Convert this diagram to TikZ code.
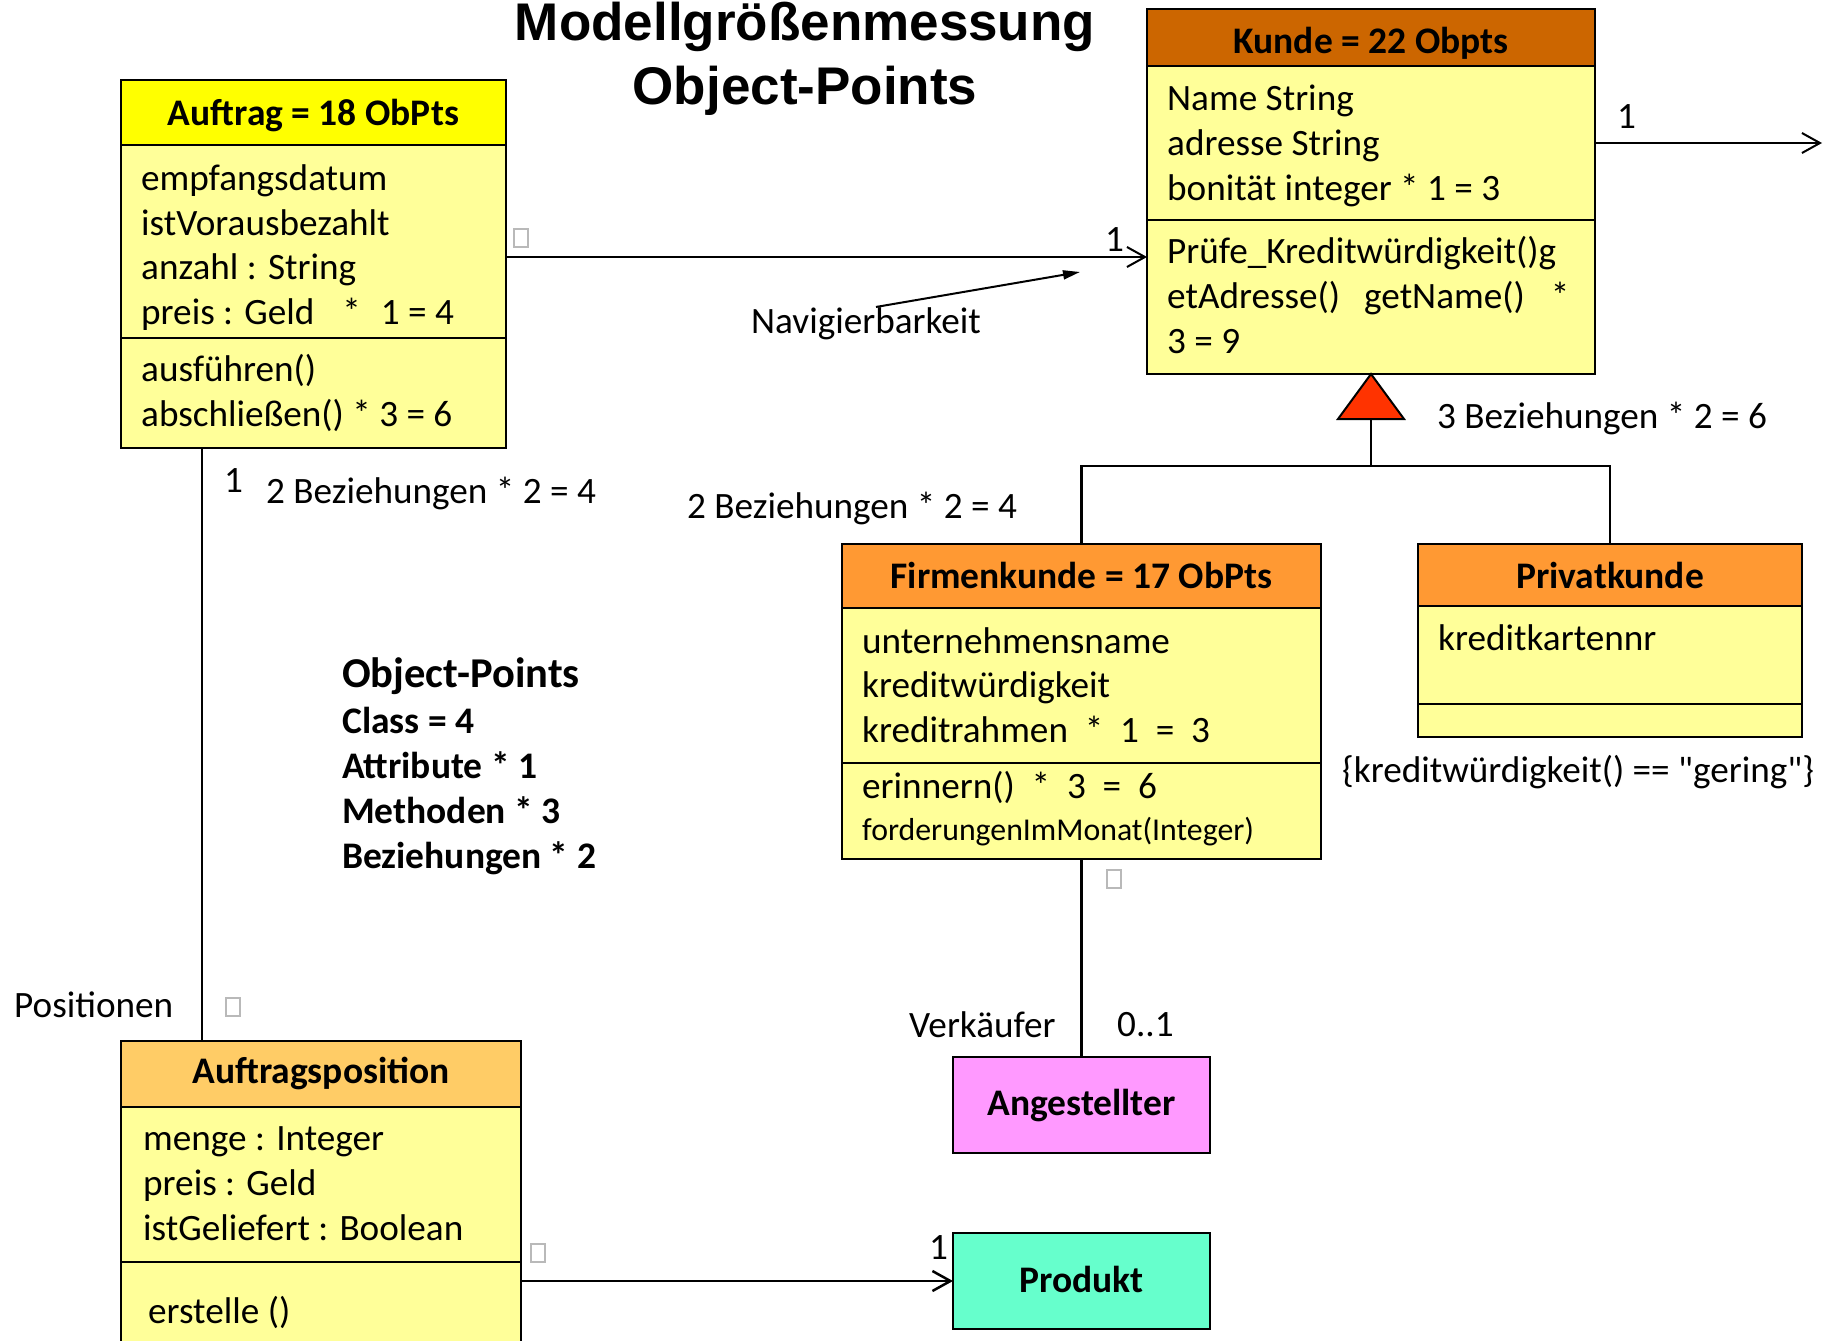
\documentclass[tikz,border=0pt]{standalone}
\usepackage{fontspec}
\setmainfont{Carlito}
\newfontfamily\rawfam{Carlito}[Ligatures=TeXOff]
\newfontfamily\titlefam{Liberation Sans}
\usetikzlibrary{arrows.meta,calc}
\definecolor{cBody}{HTML}{FFFF99}
\definecolor{cHdrY}{HTML}{FFFF00}
\definecolor{cKunde}{HTML}{CC6600}
\definecolor{cFirm}{HTML}{FF9933}
\definecolor{cPos}{HTML}{FFCC66}
\definecolor{cAng}{HTML}{FF99FF}
\definecolor{cProd}{HTML}{66FFCC}
\definecolor{cTri}{HTML}{FF3300}
\newcommand\mybody{\fontsize{37.2}{44}\selectfont}
\newcommand\myhead{\fontsize{37.5}{44}\selectfont\bfseries}
\newcommand\mysmall{\fontsize{31.8}{38}\selectfont}
\newcommand\mybig{\fontsize{42.5}{50}\selectfont\bfseries}
\newcommand\mytitle{\titlefam\bfseries\fontsize{53}{60}\selectfont}
\tikzset{
  comp/.style={draw=black, line width=2.5pt, rectangle, inner sep=0pt, outer sep=0pt, anchor=north west, fill=cBody},
  txt/.style={anchor=base west, inner sep=0pt, font=\mybody},
  hdr/.style={anchor=base, inner sep=0pt, font=\myhead},
  tofu/.style={draw=gray!55, line width=1.5pt, rectangle, minimum width=14pt, minimum height=18pt, inner sep=0pt, anchor=north west},
  conn/.style={line width=2.5pt},
  thinconn/.style={line width=2pt},
  openarrow/.style={-{Straight Barb[length=18pt,width=20pt]}},
}
\begin{document}
\begin{tikzpicture}[x=1pt,y=-1pt]
\useasboundingbox (0,0) rectangle (1829,1341);
\fill[white] (0,0) rectangle (1829,1341);

% ---- Title
\node[anchor=base, inner sep=0pt, font=\mytitle] (t1) at (805,40) {Modellgrößenmessung};
\node[anchor=base, inner sep=0pt, font=\mytitle] (t2) at (805,104) {Object-Points};

% ---- Auftrag
\node[comp, fill=cHdrY, minimum width=385pt, minimum height=65pt] (auH) at (121,80) {};
\node[comp, minimum width=385pt, minimum height=193pt] (auA) at (121,145) {};
\node[comp, minimum width=385pt, minimum height=110pt] (auM) at (121,338) {};
\node[hdr] (auT) at (313.5,125) {Auftrag = 18 ObPts};
\node[txt] (au1) at (141,190) {empfangsdatum};
\node[txt] (au2) at (141,235) {istVorausbezahlt};
\node[txt] (au3) at (141,279) {anzahl : String};
\node[txt] (au4) at (141,324) {preis : Geld\hspace{28pt}*\hspace{20pt}1 = 4};
\node[txt] (au5) at (141,381) {ausführen()};
\node[txt] (au6) at (141,426) {abschließen() * 3 = 6};

% ---- Kunde
\node[comp, fill=cKunde, minimum width=448pt, minimum height=57pt] (kuH) at (1147,9) {};
\node[comp, minimum width=448pt, minimum height=154pt] (kuA) at (1147,66) {};
\node[comp, minimum width=448pt, minimum height=154pt] (kuM) at (1147,220) {};
\node[hdr] (kuT) at (1371,53) {Kunde = 22 Obpts};
\node[txt] (ku1) at (1167,110) {Name String};
\node[txt] (ku2) at (1167,155) {adresse String};
\node[txt] (ku3) at (1167,200) {bonität integer * 1 = 3};
\node[txt] (ku4) at (1167,263) {Prüfe\_Kreditwürdigkeit()g};
\node[txt] (ku5) at (1167,308) {etAdresse()\hspace{24pt}getName()\hspace{26pt}*};
\node[txt] (ku6) at (1167,353) {3 = 9};

% ---- Firmenkunde
\node[comp, fill=cFirm, minimum width=479pt, minimum height=64pt] (fkH) at (842,544) {};
\node[comp, minimum width=479pt, minimum height=155pt] (fkA) at (842,608) {};
\node[comp, minimum width=479pt, minimum height=96pt] (fkM) at (842,763) {};
\node[hdr] (fkT) at (1081.5,588) {Firmenkunde = 17 ObPts};
\node[txt] (fk1) at (862,653) {unternehmensname};
\node[txt] (fk2) at (862,697) {kreditwürdigkeit};
\node[txt] (fk3) at (862,742) {kreditrahmen\ \ *\ \ 1\ \ =\ \ 3};
\node[txt] (fk4) at (862,798) {erinnern()\ \ *\ \ 3\ \ =\ \ 6};
\node[txt, font=\mysmall] (fk5) at (862,840) {forderungenImMonat(Integer)};

% ---- Privatkunde
\node[comp, fill=cFirm, minimum width=384pt, minimum height=62pt] (pkH) at (1418,544) {};
\node[comp, minimum width=384pt, minimum height=98pt] (pkA) at (1418,606) {};
\node[comp, minimum width=384pt, minimum height=33pt] (pkM) at (1418,704) {};
\node[hdr] (pkT) at (1610,588) {Privatkunde};
\node[txt] (pk1) at (1438,650) {kreditkartennr};
\node[txt, font=\mybody\rawfam] (cons) at (1342,782) {\{kreditwürdigkeit() == "gering"\}};

% ---- Auftragsposition
\node[comp, fill=cPos, minimum width=400pt, minimum height=66pt] (apH) at (121,1041) {};
\node[comp, minimum width=400pt, minimum height=155pt] (apA) at (121,1107) {};
\node[comp, minimum width=400pt, minimum height=110pt] (apM) at (121,1262) {};
\node[hdr] (apT) at (321,1083) {Auftragsposition};
\node[txt] (ap1) at (143,1150) {menge : Integer};
\node[txt] (ap2) at (143,1195) {preis : Geld};
\node[txt] (ap3) at (143,1240) {istGeliefert : Boolean};
\node[txt] (ap4) at (148,1323) {erstelle ()};

% ---- Angestellter, Produkt
\node[comp, fill=cAng, minimum width=257pt, minimum height=96pt] (ang) at (953,1057) {};
\node[hdr] (angT) at (1081.5,1115) {Angestellter};
\node[comp, fill=cProd, minimum width=257pt, minimum height=96pt] (prod) at (953,1233) {};
\node[hdr] (prodT) at (1081.5,1292) {Produkt};

% ---- Object-Points legend
\node[txt, font=\mybig] (op0) at (342,687) {Object-Points};
\node[txt, font=\myhead] (op1) at (342,733) {Class = 4};
\node[txt, font=\myhead] (op2) at (342,778) {Attribute * 1};
\node[txt, font=\myhead] (op3) at (342,823) {Methoden * 3};
\node[txt, font=\myhead] (op4) at (342,868) {Beziehungen * 2};

% ---- helper coordinates
\coordinate (yAK) at (0,257);
\coordinate (kRight) at (1822,143);
\coordinate (xPos) at (202,0);
\coordinate (navTip) at (1080,272);

% ---- connectors
\draw[thinconn, openarrow] (auA.east |- yAK) -- (kuM.west |- yAK);
\draw[thinconn, openarrow] (kuA.east |- kRight) -- (kRight);
\draw[conn] (auM.south -| xPos) -- (apH.north -| xPos);
\draw[conn] (fkM.south) -- (ang.north);
\draw[conn, openarrow] (apM.east |- prod.west) -- (prod.west);

% generalization
\draw[line width=2pt, fill=cTri, line join=miter] (kuM.south) -- ++(-33,45) coordinate (triL) -- ++(66,0) coordinate (triR) -- cycle;
\coordinate (triB) at ($(triL)!0.5!(triR)$);
\coordinate (barC) at ($(triB)+(0,47)$);
\draw[conn] (triB) -- (barC);
\draw[conn] (fkH.north) |- (barC) -| (pkH.north);

% labels
\node[txt] (m1) at (1617,128) {1};
\node[txt] (m2) at (1105,251) {1};
\node[txt] (nav) at (751,333) {Navigierbarkeit};
\draw[thinconn, -{Triangle[length=17pt,width=9pt]}] ([xshift=10pt]nav.north) -- (navTip);
\node[txt] (m3) at (224,492) {1};
\node[txt] (b1) at (266,503) {2 Beziehungen * 2 = 4};
\node[txt] (b2) at (687,518) {2 Beziehungen * 2 = 4};
\node[txt] (b3) at (1437,428) {3 Beziehungen * 2 = 6};
\node[txt] (posL) at (14,1017) {Positionen};
\node[txt] (verk) at (909,1037) {Verkäufer};
\node[txt] (m4) at (1117,1036) {0..1};
\node[txt] (m5) at (929,1259) {1};

% missing-glyph boxes
\node[tofu] (q1) at (513,228) {};
\node[tofu] (q2) at (1106,869) {};
\node[tofu] (q3) at (225,997) {};
\node[tofu] (q4) at (530,1243) {};
\end{tikzpicture}
\end{document}
